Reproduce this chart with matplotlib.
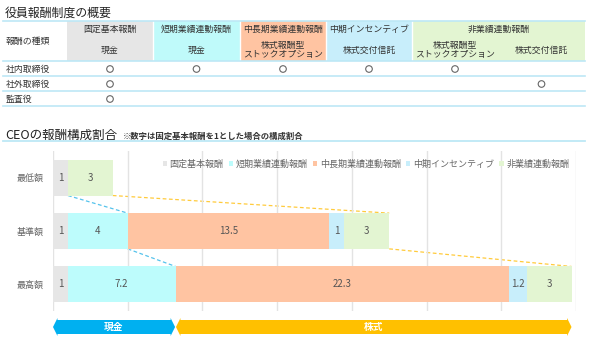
import matplotlib
matplotlib.use('Agg')
import matplotlib.pyplot as plt
from matplotlib.patches import Rectangle, Circle, Polygon, Patch
from matplotlib.transforms import Affine2D, blended_transform_factory

plt.rcParams['font.family'] = ['Noto Sans CJK JP', 'DejaVu Sans']

# 表：役員報酬制度の概要
group_headers = ['固定基本報酬', '短期業績連動報酬', '中長期業績連動報酬', '中期インセンティブ', '非業績連動報酬']
group_spans = [1, 1, 1, 1, 2]
sub_headers = ['現金', '現金', '株式報酬型\nストックオプション', '株式交付信託',
               '株式報酬型\nストックオプション', '株式交付信託']
roles = ['社内取締役', '社外取締役', '監査役']
marks = [[1, 1, 1, 1, 1, 0],
         [1, 0, 0, 0, 0, 1],
         [1, 0, 0, 0, 0, 0]]

# グラフ：CEOの報酬構成割合
categories = ['最低額', '基準額', '最高額']
series_names = ['固定基本報酬', '短期業績連動報酬', '中長期業績連動報酬', '中期インセンティブ', '非業績連動報酬']
fixed = [1, 1, 1]
short_term = [0, 4, 7.2]
mid_long = [0, 13.5, 22.3]
mid_incentive = [0, 1, 1.2]
non_perf = [3, 3, 3]

colors = ['#E6E6E6', '#BDFCFC', '#FFC4A2', '#C8EEFB', '#E3F5D2']
line_c = '#BDE8F6'

fig = plt.figure(figsize=(5.91, 3.41), dpi=100)
# ピクセル座標（左上原点）
px = Affine2D().scale(1 / 591, -1 / 341).translate(0, 1) + fig.transFigure

# ---- 表 ----
fig.text(5, 13, '役員報酬制度の概要', transform=px, fontsize=8.6, color='#222222', va='center')
edges = [67, 153, 240, 326, 412, 498, 585]
col_colors = colors[:4] + [colors[4], colors[4]]
col_colors[1] = '#BFFAFA'
for i, c in enumerate(col_colors):
    fig.add_artist(Rectangle((edges[i], 21), edges[i + 1] - edges[i], 40, transform=px,
                             facecolor=c, edgecolor='none'))
x = 0
for name, span in zip(group_headers, group_spans):
    xc = (edges[x] + edges[x + span]) / 2
    fig.text(xc, 29, name, transform=px, ha='center', va='center', fontsize=6.4, color='#333333')
    if x > 0:
        fig.add_artist(plt.Line2D([edges[x], edges[x]], [21, 61], transform=px, color='white', lw=1))
    x += span
for i, s in enumerate(sub_headers):
    xc = (edges[i] + edges[i + 1]) / 2
    fig.text(xc, 50, s, transform=px, ha='center', va='center', fontsize=6.4, color='#333333',
             linespacing=1.0)
fig.text(6, 41, '報酬の種類', transform=px, va='center', fontsize=6.4, color='#333333')
for yl in [21, 61, 76, 91, 106]:
    fig.add_artist(plt.Line2D([3, 585], [yl, yl], transform=px, color=line_c, lw=1.2))
for r, role in enumerate(roles):
    yc = 69 + 15 * r
    fig.text(6, yc, role, transform=px, va='center', fontsize=6.4, color='#333333')
    for i, m in enumerate(marks[r]):
        if m:
            xc = (edges[i] + edges[i + 1]) / 2
            fig.add_artist(Circle((xc, yc), 3.3, transform=px, facecolor='none',
                                  edgecolor='#666666', lw=0.8))

# ---- グラフ ----
fig.text(5, 135, 'CEOの報酬構成割合', transform=px, va='center', fontsize=9, color='#222222')
fig.text(123, 136, '※数字は固定基本報酬を1とした場合の構成割合', transform=px, va='center',
         fontsize=6, color='#333333', fontweight='bold')
fig.add_artist(plt.Line2D([3, 585], [141, 141], transform=px, color=line_c, lw=1.3))

ax = fig.add_axes([53 / 591, 1 - 311 / 341, 523 / 591, 160 / 341])
series = [fixed, short_term, mid_long, mid_incentive, non_perf]
h = 0.67
ys = list(range(len(categories)))
left = [0] * len(categories)
for vals, c in zip(series, colors):
    ax.barh(ys, vals, left=left, height=h, color=c, zorder=2)
    for y, v, l in zip(ys, vals, left):
        if v:
            ax.text(l + v / 2, y, f'{v:g}', ha='center', va='center', fontsize=7, color='#555555', zorder=3)
    left = [l + v for l, v in zip(left, vals)]

cash = [a + b for a, b in zip(fixed, short_term)]
total = left
for i in range(len(categories) - 1):
    ax.plot([cash[i], cash[i + 1]], [i + h / 2, i + 1 - h / 2], ls=(0, (3, 2)), color='#55C3EC', lw=0.9, zorder=1)
    ax.plot([total[i], total[i + 1]], [i + h / 2, i + 1 - h / 2], ls=(0, (3, 2)), color='#FFCB3C', lw=0.9, zorder=1)

ax.set_xlim(0, 35)
ax.set_ylim(2.5, -0.5)
ax.set_xticks(range(0, 36, 5))
ax.grid(axis='x', color='#E3E3E3', lw=1, zorder=0)
ax.set_yticks(ys)
ax.set_yticklabels(categories, fontsize=6.5, color='#666666')
ax.tick_params(axis='y', length=0, pad=7)
ax.tick_params(axis='x', length=0, labelbottom=False)
for s in ax.spines.values():
    s.set_visible(False)

handles = [Patch(facecolor=c, edgecolor='none') for c in colors]
fig.legend(handles, series_names, loc='center', bbox_to_anchor=(366 / 591, 1 - 164 / 341), ncol=5,
           frameon=False, fontsize=6.5, labelcolor='#666666', handlelength=0.45, handleheight=0.45,
           handletextpad=0.3, columnspacing=0.6)

# ---- 現金 / 株式 矢印 ----
bt = blended_transform_factory(ax.transData, fig.transFigure)


def arrow(x0, x1, color, label):
    yc = 1 - 327 / 341
    hb, hh, L = 7 / 341, 9 / 341, 0.3
    pts = [(x0, yc), (x0 + L, yc + hh), (x0 + L, yc + hb), (x1 - L, yc + hb), (x1 - L, yc + hh),
           (x1, yc), (x1 - L, yc - hh), (x1 - L, yc - hb), (x0 + L, yc - hb), (x0 + L, yc - hh)]
    p = Polygon(pts, closed=True, transform=bt, facecolor=color, edgecolor='none', clip_on=False)
    fig.add_artist(p)
    fig.text((x0 + x1) / 2, yc, label, transform=bt, ha='center', va='center', fontsize=7,
             color='white', fontweight='bold')


arrow(0, cash[-1] - 0.03, '#00B0F0', '現金')
arrow(cash[-1] + 0.03, total[-1], '#FFC000', '株式')

fig.savefig('out.png', dpi=100)
